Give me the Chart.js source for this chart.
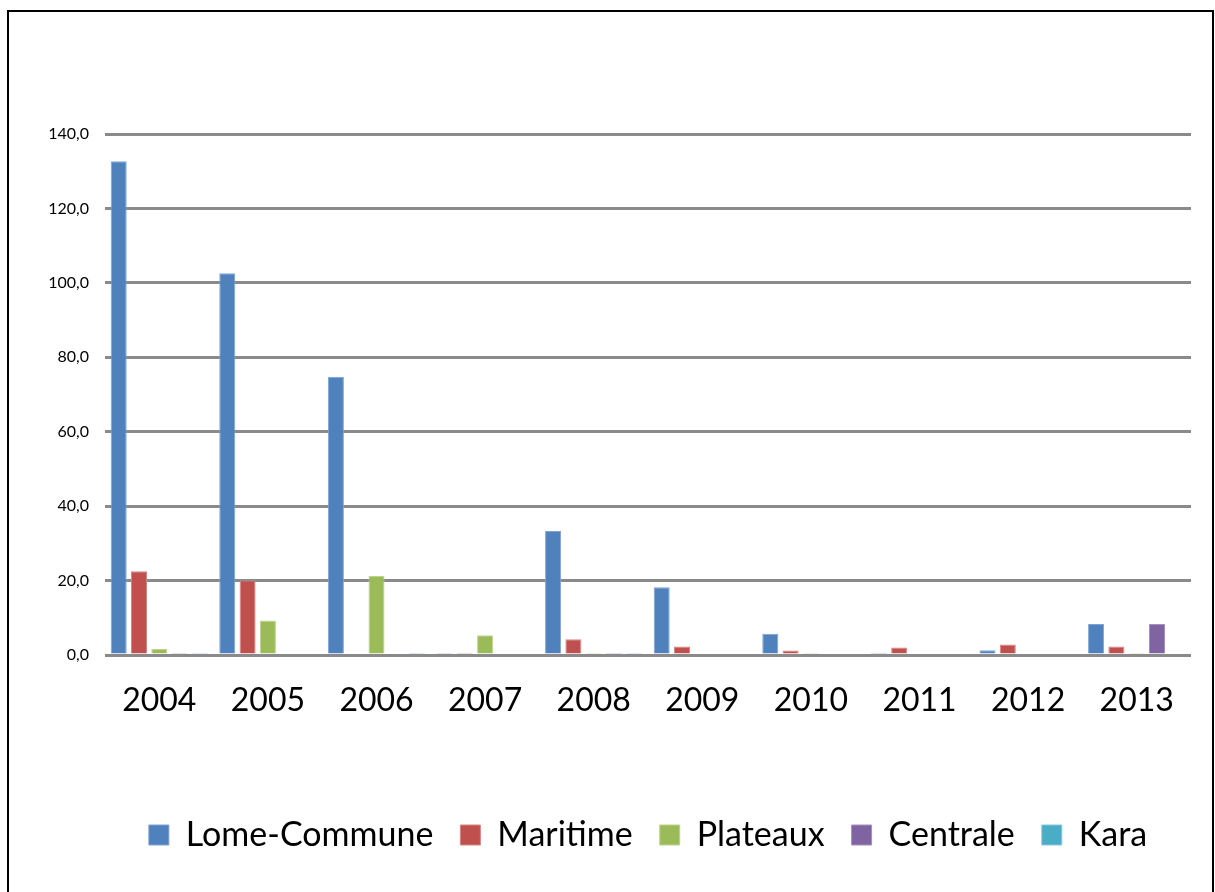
<!DOCTYPE html>
<html>
<head>
<meta charset="utf-8">
<script src="https://cdn.jsdelivr.net/npm/chart.js@4"></script>
<style>
  html, body { margin: 0; padding: 0; background: #fff; }
  #wrap { position: relative; width: 1215px; height: 892px; }
  #frame {
    position: absolute; left: 7px; top: 10px; width: 1203px; height: 900px;
    border: 2px solid #000; pointer-events: none;
  }
</style>
</head>
<body>
<div id="wrap">
  <canvas id="myChart" width="1215" height="892"></canvas>
  <div id="frame"></div>
</div>
<script>
const years = ["2004", "2005", "2006", "2007", "2008", "2009", "2010", "2011", "2012", "2013"];
const lomeCommune = [132.7, 102.6, 74.8, 0.3, 33.3, 18.2, 5.7, 0.6, 1.3, 8.3];
const maritime = [22.5, 20.0, 0, 0.3, 4.2, 2.3, 1.2, 2.0, 2.8, 2.3];
const plateaux = [1.6, 9.3, 21.2, 5.3, 0.3, 0, 0.3, 0, 0, 0.3];
const centrale = [0.3, 0, 0, 0, 0.3, 0, 0, 0, 0, 8.3];
const kara = [0.3, 0, 0.3, 0, 0.3, 0, 0, 0, 0, 0];
const yTicks = [0, 20, 40, 60, 80, 100, 120, 140];

const makeSet = (label, data, color, edge) => ({
  label: label,
  data: data,
  backgroundColor: color,
  borderColor: edge,
  borderWidth: 1,
  categoryPercentage: 0.935,
  barPercentage: 0.79,
});

const ctx = document.getElementById("myChart").getContext("2d");
const myChart = new Chart(ctx, {
  type: "bar",
  data: {
    labels: years,
    datasets: [
      makeSet("Lome-Commune", lomeCommune, "#4F81BD", "#7ea3d3"),
      makeSet("Maritime", maritime, "#C0504D", "#d68583"),
      makeSet("Plateaux", plateaux, "#9BBB59", "#bdd48e"),
      makeSet("Centrale", centrale, "#8064A2", "#a590c0"),
      makeSet("Kara", kara, "#4BACC6", "#86c9db"),
    ],
  },
  options: {
    responsive: false,
    animation: false,
    layout: {
      padding: { top: 134, right: 24, bottom: 30, left: 0 },
    },
    scales: {
      x: {
        grid: { display: false, drawTicks: false },
        border: { display: false },
        ticks: {
          color: "#000",
          padding: 26,
          font: { family: "Lato", size: 32 },
        },
        afterFit: (scale) => {
          scale.height = 136;
        },
      },
      y: {
        min: 0,
        max: 140,
        afterBuildTicks: (scale) => {
          scale.ticks = yTicks.map((v) => ({ value: v }));
        },
        grid: { color: "#8a8a8a", lineWidth: 3, drawTicks: false },
        border: { display: false },
        ticks: {
          color: "#000",
          padding: 16,
          font: { family: "Lato", size: 16 },
          callback: (v) => v.toFixed(1).replace(".", ","),
        },
        afterFit: (scale) => {
          scale.width = 105;
        },
      },
    },
    plugins: {
      legend: {
        display: true,
        position: "bottom",
        fullSize: false,
        labels: {
          color: "#000",
          boxWidth: 20,
          boxHeight: 20,
          padding: 27,
          font: { family: "Lato", size: 34 },
        },
      },
      tooltip: { enabled: false },
      title: { display: false },
    },
  },
});
</script>
</body>
</html>
